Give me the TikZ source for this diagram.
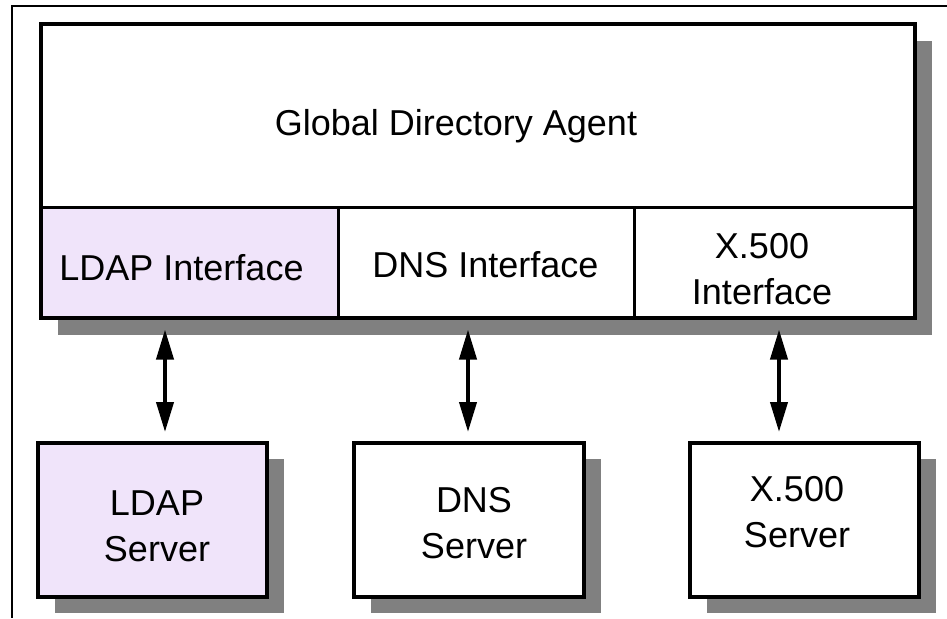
\documentclass[tikz,border=0pt]{standalone}
\usepackage{fontspec}
\setmainfont{Liberation Sans}
\usetikzlibrary{arrows.meta,positioning,shadows,backgrounds}

\definecolor{ldapfill}{RGB}{240,228,250}
\definecolor{shadowgray}{RGB}{128,128,128}

\begin{document}
\begin{tikzpicture}[
            x=0.5pt, y=-0.5pt,
            lbl/.style={
                font=\fontsize{18pt}{23pt}\selectfont,
                inner sep=0pt
            },
            agent/.style={
                draw,
                line width=1.5pt,
                fill=white,
                outer sep=0pt,
                minimum width=874*0.5pt,
                minimum height=183.5*0.5pt
            },
            ifbox/.style={
                draw,
                line width=1.5pt,
                fill=white,
                outer sep=0pt,
                minimum height=110.5*0.5pt
            },
            srvbox/.style={
                draw,
                line width=2pt,
                fill=white,
                minimum width=229.5*0.5pt,
                minimum height=154*0.5pt,
                drop shadow={shadow xshift=8.5pt, shadow yshift=-8pt, opacity=1, fill=shadowgray}
            },
            dblarrow/.style={
                line width=2pt,
                {Triangle[length=15pt,width=8.5pt]}-{Triangle[length=15pt,width=8.5pt]},
                shorten <=6pt,
                shorten >=4.5pt
            },
            frame/.style={
                line width=1pt
            }
        ]

            \useasboundingbox (0,0) rectangle (947,618);

% Page frame
            \draw[frame] (947,6) -- (12,6) -- (12,618);

% Agent with its three interfaces
            \node[agent] (gda) at (477.5,115.25) {};
            \node[ifbox, fill=ldapfill, minimum width=297.5*0.5pt] (ldapif) at (189.25,262.25) {};
            \node[ifbox, minimum width=296*0.5pt] (dnsif) at (486,262.25) {};
            \node[ifbox, minimum width=280.5*0.5pt] (xif) at (774.25,262.25) {};
            \draw[line width=2pt] (gda.north west) rectangle (xif.south east);

            \begin{scope}[on background layer]
                \fill[white] (0,0) rectangle (947,618);
                \fill[shadowgray] ([shift={(17,17)}]gda.north west) rectangle ([shift={(17,17)}]xif.south east);
            \end{scope}

            \node[lbl, anchor=base] (gdat) at (456,135) {Global Directory Agent};
            \node[lbl, anchor=base] (ldapift) at (181.5,280) {LDAP Interface};
            \node[lbl, anchor=base] (dnsift) at (485.5,277) {DNS Interface};
            \node[lbl, align=center] (xift) at (762,269) {X.500\\Interface};

% Servers
            \node[srvbox, fill=ldapfill] (ldapsrv) at (152.5,520) {};
            \node[srvbox] (dnssrv) at (468.75,520) {};
            \node[srvbox] (xsrv) at (804.25,520) {};

            \node[lbl, align=center] (ldapsrvt) at (157,526.5) {LDAP\\Server};
            \node[lbl, align=center] (dnssrvt) at (474,523.5) {DNS\\Server};
            \node[lbl, align=center] (xsrvt) at (797,512) {X.500\\Server};

% Links
            \coordinate (ldaparr) at (165,380);
            \coordinate (dnsarr) at (468,380);
            \coordinate (xarr) at (779,380);
            \draw[dblarrow] (ldapif.south -| ldaparr) -- (ldapsrv.north -| ldaparr);
            \draw[dblarrow] (dnsif.south -| dnsarr) -- (dnssrv.north -| dnsarr);
            \draw[dblarrow] (xif.south -| xarr) -- (xsrv.north -| xarr);

        \end{tikzpicture}
\end{document}
